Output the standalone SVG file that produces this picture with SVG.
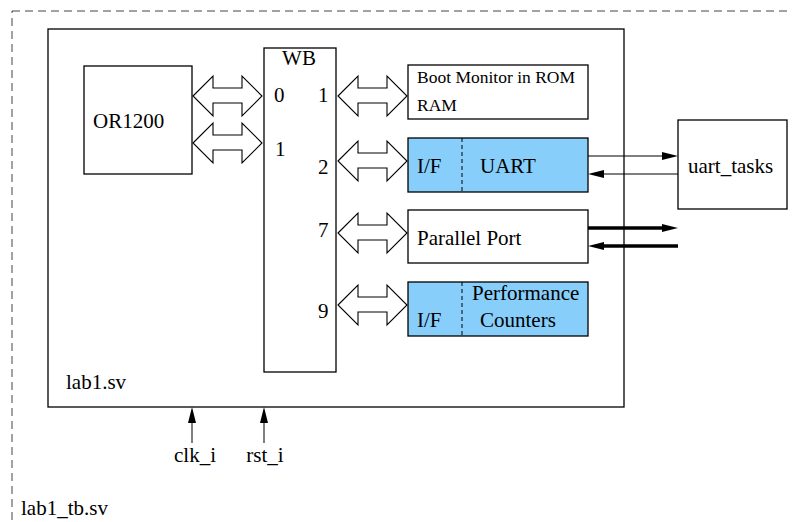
<svg xmlns="http://www.w3.org/2000/svg" width="792" height="522" viewBox="0 0 792 522">
<style>
text{font-family:"Liberation Serif","Times New Roman",serif;font-size:21px;fill:#000}
.box{fill:#fff;stroke:#000;stroke-width:1.3}
.blue{fill:#87cefa;stroke:#000;stroke-width:1.3}
.dbl{fill:#fff;stroke:#000;stroke-width:1.1;stroke-linejoin:miter}
.div{stroke:#000;stroke-width:1;stroke-dasharray:4,3;fill:none}
.thin{stroke:#000;stroke-width:1;fill:none}
.thick{stroke:#000;stroke-width:3.5;fill:none}
</style>
<defs>
<marker id="ah" markerUnits="userSpaceOnUse" markerWidth="16" markerHeight="8" refX="6" refY="4" orient="auto" overflow="visible">
<path d="M0,0 L16,4 L0,8 z" fill="#000"/>
</marker>
<polygon id="da" points="0,0 20,-20 20,-8 49,-8 49,-20 69,0 49,20 49,7 20,7 20,20" class="dbl"/>
</defs>
<rect x="12" y="11" width="800" height="540" fill="none" stroke="#444" stroke-width="1" stroke-dasharray="8,5"/>
<g id="lab1">
<rect x="48" y="29" width="576" height="378" class="box"/>
<text x="66" y="389">lab1.sv</text>
</g>
<text x="21" y="515">lab1_tb.sv</text>
<g id="or1200">
<rect x="84" y="66" width="108" height="108" class="box"/>
<text x="93" y="128">OR1200</text>
</g>
<g id="wb">
<rect x="264" y="48" width="72" height="324" class="box"/>
<text x="299" y="65" text-anchor="middle">WB</text>
<text x="274" y="102">0</text>
<text x="275" y="156">1</text>
<text x="318" y="102">1</text>
<text x="318" y="174">2</text>
<text x="318" y="237">7</text>
<text x="318" y="318">9</text>
</g>
<g id="boot">
<rect x="408" y="65" width="180" height="54" class="box"/>
<text x="417" y="83" style="font-size:17.5px">Boot Monitor in ROM</text>
<text x="417" y="111" style="font-size:17.5px">RAM</text>
</g>
<g id="uart">
<rect x="408" y="138" width="180" height="54" class="blue"/>
<line x1="462" y1="138" x2="462" y2="192" class="div"/>
<text x="417" y="173">I/F</text>
<text x="480" y="173">UART</text>
</g>
<g id="pport">
<rect x="408" y="210" width="180" height="53" class="box"/>
<text x="417" y="245">Parallel Port</text>
</g>
<g id="perf">
<rect x="408" y="282" width="180" height="54" class="blue"/>
<line x1="462" y1="282" x2="462" y2="336" class="div"/>
<text x="417" y="327">I/F</text>
<text x="472" y="300">Performance</text>
<text x="480" y="327">Counters</text>
</g>
<g id="uart_tasks">
<rect x="678" y="120" width="109" height="89" class="box"/>
<text x="688" y="173">uart_tasks</text>
</g>
<g id="connectors">
<use href="#da" x="193" y="96"/>
<use href="#da" x="193" y="143"/>
<use href="#da" x="338" y="96"/>
<use href="#da" x="338" y="161"/>
<use href="#da" x="338" y="233"/>
<use href="#da" x="338" y="305"/>
<line x1="588" y1="156" x2="668" y2="156" class="thin" marker-end="url(#ah)"/>
<line x1="678" y1="174" x2="598" y2="174" class="thin" marker-end="url(#ah)"/>
<line x1="588" y1="228" x2="668" y2="228" class="thick" marker-end="url(#ah)"/>
<line x1="678" y1="246" x2="598" y2="246" class="thick" marker-end="url(#ah)"/>
<line x1="192" y1="443" x2="192" y2="417" class="thin" marker-end="url(#ah)"/>
<line x1="264" y1="443" x2="264" y2="417" class="thin" marker-end="url(#ah)"/>
</g>
<text x="195" y="462" text-anchor="middle">clk_i</text>
<text x="265" y="462" text-anchor="middle">rst_i</text>
</svg>
